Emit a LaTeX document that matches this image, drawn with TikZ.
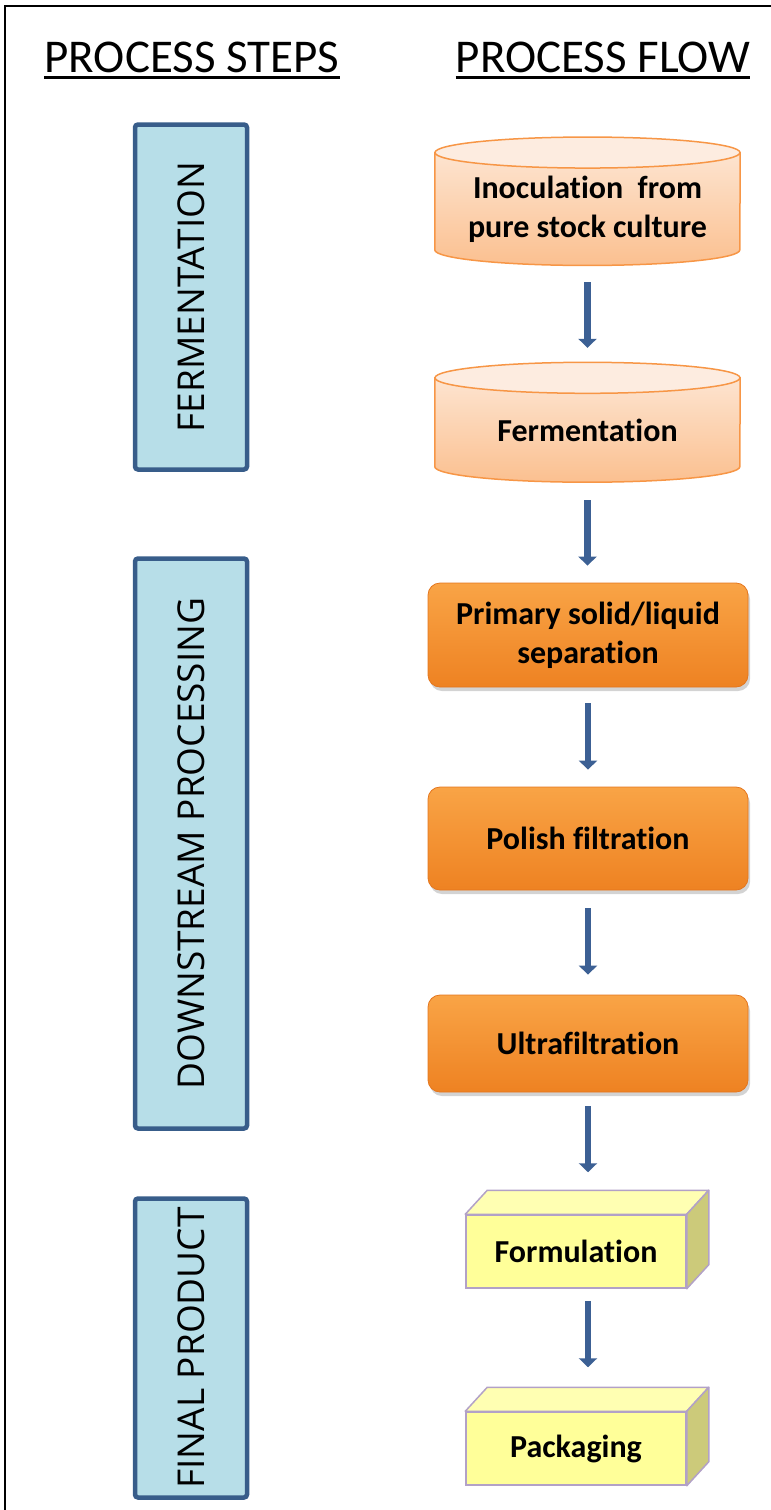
\documentclass[tikz,border=0pt]{standalone}
\usepackage{fontspec}
\setmainfont[Ligatures={NoCommon,NoContextual}]{Carlito}
\newfontfamily\stepfont{Open Sans}
\usetikzlibrary{positioning, arrows.meta, shadows, backgrounds}
\definecolor{stepfill}{RGB}{183,222,232}
\definecolor{stepline}{RGB}{56,93,138}
\definecolor{flowarrow}{RGB}{60,96,148}
\definecolor{tankline}{RGB}{247,150,70}
\definecolor{tanktop}{RGB}{253,236,224}
\definecolor{tankhigh}{RGB}{253,228,208}
\definecolor{tanklow}{RGB}{251,192,144}
\definecolor{unitline}{RGB}{228,118,30}
\definecolor{unithigh}{RGB}{249,164,70}
\definecolor{unitlow}{RGB}{238,130,34}
\definecolor{cubefront}{RGB}{255,255,153}
\definecolor{cubetop}{RGB}{255,255,178}
\definecolor{cubeside}{RGB}{204,202,122}
\definecolor{cubeline}{RGB}{178,161,199}

\begin{document}
\begin{tikzpicture}[x=1pt, y=1pt,
    heading/.style={font=\fontsize{47}{56}\selectfont, inner sep=0pt},
    stepbox/.style={draw=stepline, line width=4.5pt, fill=stepfill, rounded corners=3pt,
      rotate=90, minimum height=112pt, inner sep=0pt, font=\stepfont\fontsize{37}{44}\selectfont},
    tank/.style={minimum width=305pt, inner sep=0pt, align=center,
      font=\bfseries\fontsize{32}{39}\selectfont},
    unit/.style={draw=unitline, line width=0.8pt, top color=unithigh, bottom color=unitlow,
      rounded corners=12pt, minimum width=320pt, inner sep=0pt, align=center,
      drop shadow={shadow xshift=2pt, shadow yshift=-4pt, opacity=0.35},
      font=\bfseries\fontsize{32}{39}\selectfont},
    cube/.style={draw=cubeline, line width=1.5pt, fill=cubefront, minimum width=220pt,
      minimum height=73pt, inner sep=0pt, font=\bfseries\fontsize{32}{39}\selectfont},
    flow/.style={draw=flowarrow, line width=6.5pt, -{Triangle[width=18pt, length=9pt]}}]
    \useasboundingbox (0,0) rectangle (771,-1510);
    \draw[line width=2pt] (5,-1510) -- (5,-6) -- (771,-6);

    % headings
    \node[heading] (steps) at (192,-57) {PROCESS STEPS};
    \node[heading] (flowhead) at (603,-57) {PROCESS FLOW};
    \draw[line width=2.5pt] ([yshift=-5pt]steps.south west) -- ([yshift=-5pt]steps.south east);
    \draw[line width=2.5pt] ([yshift=-5pt]flowhead.south west) -- ([yshift=-5pt]flowhead.south east);

    % process steps
    \node[stepbox, minimum width=345pt] (fermstep) at (191,-297) {FERMENTATION};
    \node[stepbox, minimum width=570pt] (downstep) at (191,-843.5) {DOWNSTREAM PROCESSING};
    \node[stepbox, minimum width=299pt] (finalstep) at (191,-1348) {FINAL PRODUCT};

    % process flow
    \node[tank, minimum height=112.5pt] (inoc) at (587.5,-209) {Inoculation\ \ from\\pure stock culture};
    \node[tank, minimum height=104pt] (ferm) at (587.5,-430) {Fermentation};
    \node[unit, minimum height=104pt] (primary) at (588,-635) {Primary solid/liquid\\separation};
    \node[unit, minimum height=103pt] (polish) at (588,-838.5) {Polish filtration};
    \node[unit, minimum height=97pt] (ultra) at (588,-1043.5) {Ultrafiltration};
    \node[cube] (form) at (576,-1251.5) {Formulation};
    \node[cube] (pack) at (576,-1448.5) {Packaging};

    \begin{scope}[on background layer]
      \foreach \t in {inoc, ferm} {
        \draw[tankline, line width=1.5pt, top color=tankhigh, bottom color=tanklow]
          (\t.north west) -- ([yshift=15.5pt]\t.south west)
          arc[start angle=180, end angle=360, x radius=152.5pt, y radius=15.5pt]
          -- (\t.north east) -- cycle;
        \draw[tankline, line width=1.5pt, fill=tanktop] (\t.north) ellipse[x radius=152.5pt, y radius=15.5pt];
      }
    \end{scope}

    \foreach \c in {form, pack} {
      \filldraw[draw=cubeline, line width=1.5pt, fill=cubetop, line join=round]
        (\c.north west) -- ([shift={(22,24)}]\c.north west) -- ([shift={(22,24)}]\c.north east) -- (\c.north east) -- cycle;
      \filldraw[draw=cubeline, line width=1.5pt, fill=cubeside, line join=round]
        (\c.north east) -- ([shift={(22,24)}]\c.north east) -- ([shift={(22,24)}]\c.south east) -- (\c.south east) -- cycle;
    }

    \draw[flow, shorten <=17pt, shorten >=30pt] (inoc.south) -- (ferm.north);
    \draw[flow, shorten <=18pt, shorten >=17pt] (ferm.south) -- (ferm.south |- primary.north);
    \draw[flow, shorten <=16pt, shorten >=17pt] (primary.south) -- (polish.north);
    \draw[flow, shorten <=18pt, shorten >=20pt] (polish.south) -- (ultra.north);
    \draw[flow, shorten <=14pt, shorten >=42pt] (ultra.south) -- (ultra.south |- form.north);
    \draw[flow, shorten <=12pt, shorten >=44pt] (ultra.south |- form.south) -- (ultra.south |- pack.north);
  \end{tikzpicture}
\end{document}
